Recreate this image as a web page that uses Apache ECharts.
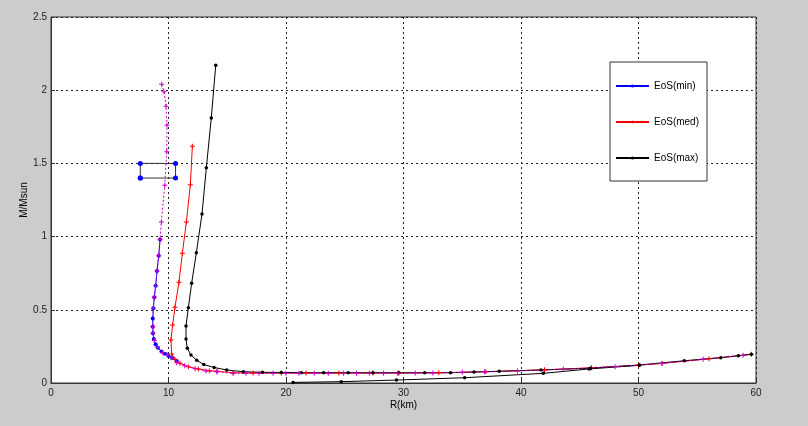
<!DOCTYPE html>
<html>
<head>
<meta charset="utf-8">
<script src="https://cdn.jsdelivr.net/npm/echarts@6/dist/echarts.min.js"></script>
<style>
  html, body { margin: 0; padding: 0; background: #cccccc; }
  #chart { width: 808px; height: 426px; }
</style>
</head>
<body>
<div id="chart"></div>
<script>
// axis ticks
var xTicks = [0, 10, 20, 30, 40, 50, 60];
var yTicks = [0, 0.5, 1, 1.5, 2, 2.5];

// [R(km), M/Msun]
var eosMin = [
  [9.28, 0.98], [9.17, 0.87], [9.02, 0.765], [8.91, 0.665], [8.79, 0.585],
  [8.71, 0.51], [8.66, 0.44], [8.66, 0.385], [8.68, 0.34], [8.75, 0.30],
  [8.9, 0.265], [9.1, 0.24], [9.4, 0.215], [9.7, 0.20], [10.0, 0.185],
  [10.3, 0.17], [10.7, 0.15]
];
var eosMed = [
  [12.03, 1.617], [11.86, 1.355], [11.52, 1.10], [11.18, 0.886], [10.89, 0.688],
  [10.55, 0.517], [10.35, 0.396], [10.21, 0.294], [10.27, 0.198], [10.55, 0.162],
  [10.98, 0.135], [11.69, 0.111], [12.54, 0.096], [13.47, 0.084], [14.15, 0.080],
  [15.5, 0.070], [17.2, 0.068], [19.6, 0.068], [21.7, 0.068], [24.5, 0.068],
  [27.4, 0.068], [29.6, 0.068], [33.0, 0.070], [37.0, 0.077], [42.0, 0.090],
  [46.0, 0.104], [50.0, 0.121], [52.0, 0.134], [56.0, 0.165], [59.6, 0.196]
];
var eosMax = [
  [14.02, 2.17], [13.64, 1.81], [13.22, 1.47], [12.85, 1.154], [12.37, 0.89],
  [11.97, 0.681], [11.69, 0.514], [11.49, 0.389], [11.49, 0.30], [11.6, 0.237],
  [11.91, 0.191], [12.4, 0.155], [13.0, 0.126], [13.88, 0.106], [14.95, 0.089],
  [16.37, 0.077], [18.0, 0.073], [19.6, 0.072], [21.3, 0.070], [23.2, 0.070],
  [25.3, 0.070], [27.4, 0.070], [29.6, 0.070], [31.8, 0.070], [34.0, 0.070],
  [36.0, 0.075], [38.15, 0.080], [41.7, 0.089], [45.9, 0.101], [50.07, 0.123],
  [53.9, 0.152], [57.0, 0.173], [58.5, 0.186], [59.6, 0.196]
];
// second black branch running back to small mass
var eosMaxLow = [
  [20.6, 0.004], [24.7, 0.009], [29.4, 0.020], [35.2, 0.036], [41.9, 0.066],
  [45.8, 0.096], [50.07, 0.121]
];
// magenta dotted curve
var other = [
  [9.42, 2.04], [9.62, 1.99], [9.79, 1.89], [9.87, 1.76], [9.85, 1.58],
  [9.68, 1.35], [9.39, 1.10], [9.28, 0.98], [9.17, 0.87], [9.02, 0.765],
  [8.91, 0.665], [8.79, 0.585], [8.71, 0.51], [8.66, 0.385], [8.68, 0.34],
  [8.79, 0.29], [9.05, 0.245], [9.51, 0.207], [9.9, 0.191], [10.27, 0.173],
  [10.7, 0.139], [11.38, 0.118], [12.26, 0.098], [13.19, 0.082], [14.1, 0.077],
  [15.5, 0.066], [16.6, 0.066], [17.7, 0.066], [18.9, 0.066], [20.0, 0.066],
  [21.1, 0.066], [22.4, 0.066], [23.6, 0.066], [24.9, 0.066], [26.0, 0.066],
  [27.1, 0.066], [28.3, 0.066], [29.5, 0.067], [31.0, 0.068], [32.5, 0.069],
  [35.0, 0.073], [36.9, 0.076], [39.7, 0.082], [43.6, 0.094], [48.0, 0.111],
  [52.0, 0.134], [55.5, 0.162], [58.9, 0.189]
];
// error box
var box = [[7.6, 1.4], [7.6, 1.5], [10.6, 1.5], [10.6, 1.4], [7.6, 1.4]];

var plus = 'path://M4,0L6,0L6,4L10,4L10,6L6,6L6,10L4,10L4,6L0,6L0,4L4,4Z';
var font = 'Liberation Sans';

function lineSeries(name, data, color, symbol, size, type) {
  return {
    name: name,
    type: 'line',
    data: data,
    symbol: symbol,
    symbolSize: size,
    showAllSymbol: true,
    animation: false,
    itemStyle: { color: color },
    lineStyle: { color: color, width: 1, type: type || 'solid' },
    emphasis: { disabled: true }
  };
}

var chart = echarts.init(document.getElementById('chart'));
chart.setOption({
  backgroundColor: '#cccccc',
  textStyle: { fontFamily: font },
  grid: {
    left: 51, right: 52, top: 17, bottom: 43,
    show: true, backgroundColor: '#ffffff', borderColor: '#333333', borderWidth: 1
  },
  legend: {
    orient: 'vertical',
    left: 610, top: 62,
    padding: [17, 8, 16, 5],
    itemWidth: 33, itemHeight: 4, itemGap: 22,
    backgroundColor: '#ffffff',
    borderColor: '#333333', borderWidth: 1,
    textStyle: { fontFamily: font, fontSize: 10, color: '#000', lineHeight: 14, height: 14 },
    data: ['EoS(min)', 'EoS(med)', 'EoS(max)']
  },
  xAxis: {
    type: 'value', min: xTicks[0], max: xTicks[xTicks.length - 1], interval: 10,
    name: 'R(km)', nameLocation: 'middle', nameGap: 17, nameMoveOverlap: false,
    nameTextStyle: { fontFamily: font, fontSize: 10, color: '#000' },
    axisLine: { lineStyle: { color: '#333333' } },
    axisTick: { inside: true, length: 4, lineStyle: { color: '#333333' } },
    axisLabel: { fontFamily: font, fontSize: 10, color: '#222', margin: 5 },
    splitLine: { show: true, lineStyle: { color: '#222', type: [2, 3], width: 1 } }
  },
  yAxis: {
    type: 'value', min: yTicks[0], max: yTicks[yTicks.length - 1], interval: 0.5,
    name: 'M/Msun', nameLocation: 'middle', nameGap: 22, nameMoveOverlap: false,
    nameTextStyle: { fontFamily: font, fontSize: 10, color: '#000' },
    axisLine: { show: true, lineStyle: { color: '#333333' } },
    axisTick: { show: true, inside: true, length: 4, lineStyle: { color: '#333333' } },
    axisLabel: { fontFamily: font, fontSize: 10, color: '#222', margin: 4 },
    splitLine: { show: true, lineStyle: { color: '#222', type: [2, 3], width: 1 } }
  },
  series: [
    lineSeries('EoS(min)', eosMin, '#0000ff', 'circle', 4),
    lineSeries('EoS(med)', eosMed, '#ff0000', plus, 5),
    lineSeries('EoS(max)', eosMax, '#000000', 'circle', 3.5),
    lineSeries('maxLow', eosMaxLow, '#000000', 'circle', 3.5),
    Object.assign(lineSeries('box', box, '#0000ff', 'circle', 5), {
      lineStyle: { color: '#333333', width: 1 }
    }),
    lineSeries('other', other, '#cc00cc', plus, 5, [2, 2])
  ]
});
</script>
</body>
</html>
